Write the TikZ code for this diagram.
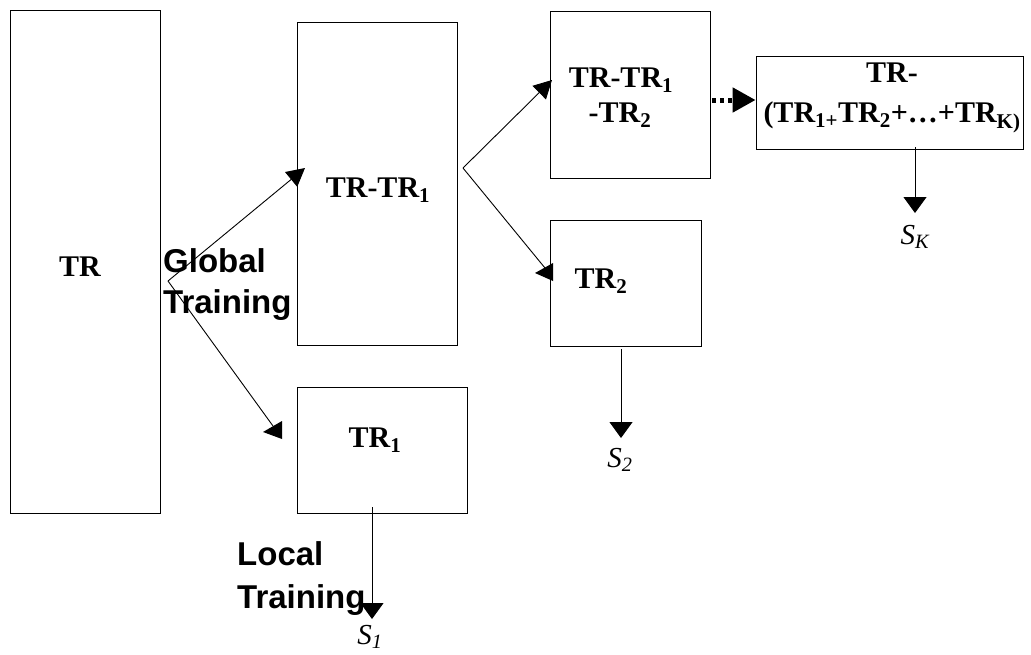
\documentclass[tikz,border=0pt]{standalone}
\usepackage{fontspec}
\setmainfont{Liberation Serif}
\setsansfont{Liberation Sans}
\usetikzlibrary{arrows.meta}

\begin{document}
\begin{tikzpicture}[x=1pt,y=-1pt,
  box/.style={draw, line width=0.9pt, inner sep=0pt},
  bold/.style={font=\fontsize{30}{36}\selectfont\bfseries, inner sep=0pt, anchor=base},
  sans/.style={font=\sffamily\fontsize{33}{40}\selectfont\bfseries, inner sep=0pt, anchor=base west},
  ital/.style={font=\fontsize{29}{35}\selectfont\itshape, inner sep=0pt, anchor=base},
  line/.style={line width=0.9pt},
  arr/.style={line, -{Triangle[length=18pt,width=19pt]}},
  down/.style={line, -{Triangle[length=16pt,width=23pt]}},
  dots/.style={line width=5pt, dash pattern=on 4pt off 4pt, -{Triangle[length=23pt,width=24pt]}}]
\useasboundingbox (0,0) rectangle (1031,654);

% boxes
\node[box, minimum width=150pt, minimum height=503pt] (tr)  at (85,261.5)   {};
\node[box, minimum width=160pt, minimum height=323pt] (trA) at (377,183.5)  {};
\node[box, minimum width=170pt, minimum height=126pt] (trO) at (382,450)    {};
\node[box, minimum width=160pt, minimum height=167pt] (trB) at (630,94.5)   {};
\node[box, minimum width=151pt, minimum height=126pt] (trT) at (625.5,283)  {};
\node[box, minimum width=267pt, minimum height=93pt]  (trK) at (889.5,102.5) {};

% box labels
\node[bold] (lTR) at (80,276)  {TR};
\node[bold] (lA)  at (378,197) {TR-TR\textsubscript{1}};
\node[bold] (lO)  at (375,447) {TR\textsubscript{1}};
\node[bold] (lB1) at (621,87)  {TR-TR\textsubscript{1}};
\node[bold] (lB2) at (620,122) {-TR\textsubscript{2}};
\node[bold] (lT)  at (601,288) {TR\textsubscript{2}};
\node[bold] (lK1) at (892,82)  {TR-};
\node[bold] (lK2) at (892,122) {(TR\textsubscript{1+}TR\textsubscript{2}+…+TR\textsubscript{K)}};

% phase labels
\node[sans] (g1) at (163,272) {Global};
\node[sans] (g2) at (163,313) {Training};
\node[sans] (l1) at (237,565) {Local};
\node[sans] (l2) at (237,608) {Training};

% outputs
\node[ital] (s1) at (370,644) {S\textsubscript{1}};
\node[ital] (s2) at (620,467) {S\textsubscript{2}};
\node[ital] (sK) at (915,244) {S\textsubscript{K}};

% branch points and arrow ends
\coordinate (gsplit) at (168,281);
\coordinate (gup)    at (305,168);
\coordinate (gdown)  at (273,426);
\coordinate (bsplit) at (463,168);
\coordinate (bup)    at (552,80);
\coordinate (bdown)  at (545,268);
\coordinate (s1tip)  at (372,619);
\coordinate (s2tip)  at (621,438);
\coordinate (sKtip)  at (915,213);
\coordinate (dotrow) at (712,100);

% connectors
\draw[arr]  (gsplit) -- (gup);
\draw[line] (gsplit) -- (gdown);
\fill (263,432) -- (282,421) -- (282,439) -- cycle;
\draw[arr]  (bsplit) -- (bup);
\draw[line] (bsplit) -- (bdown);
\fill (535,273) -- (553,263) -- (553,281) -- cycle;
\draw[down] ([yshift=6pt]trO.south -| s1tip) -- (s1tip);
\draw[down] ([yshift=-3pt]trT.south -| s2tip) -- (s2tip);
\draw[down] ([yshift=2pt]trK.south -| sKtip) -- (sKtip);
\draw[dots] (dotrow) -- (trK.west |- dotrow);
\end{tikzpicture}
\end{document}
